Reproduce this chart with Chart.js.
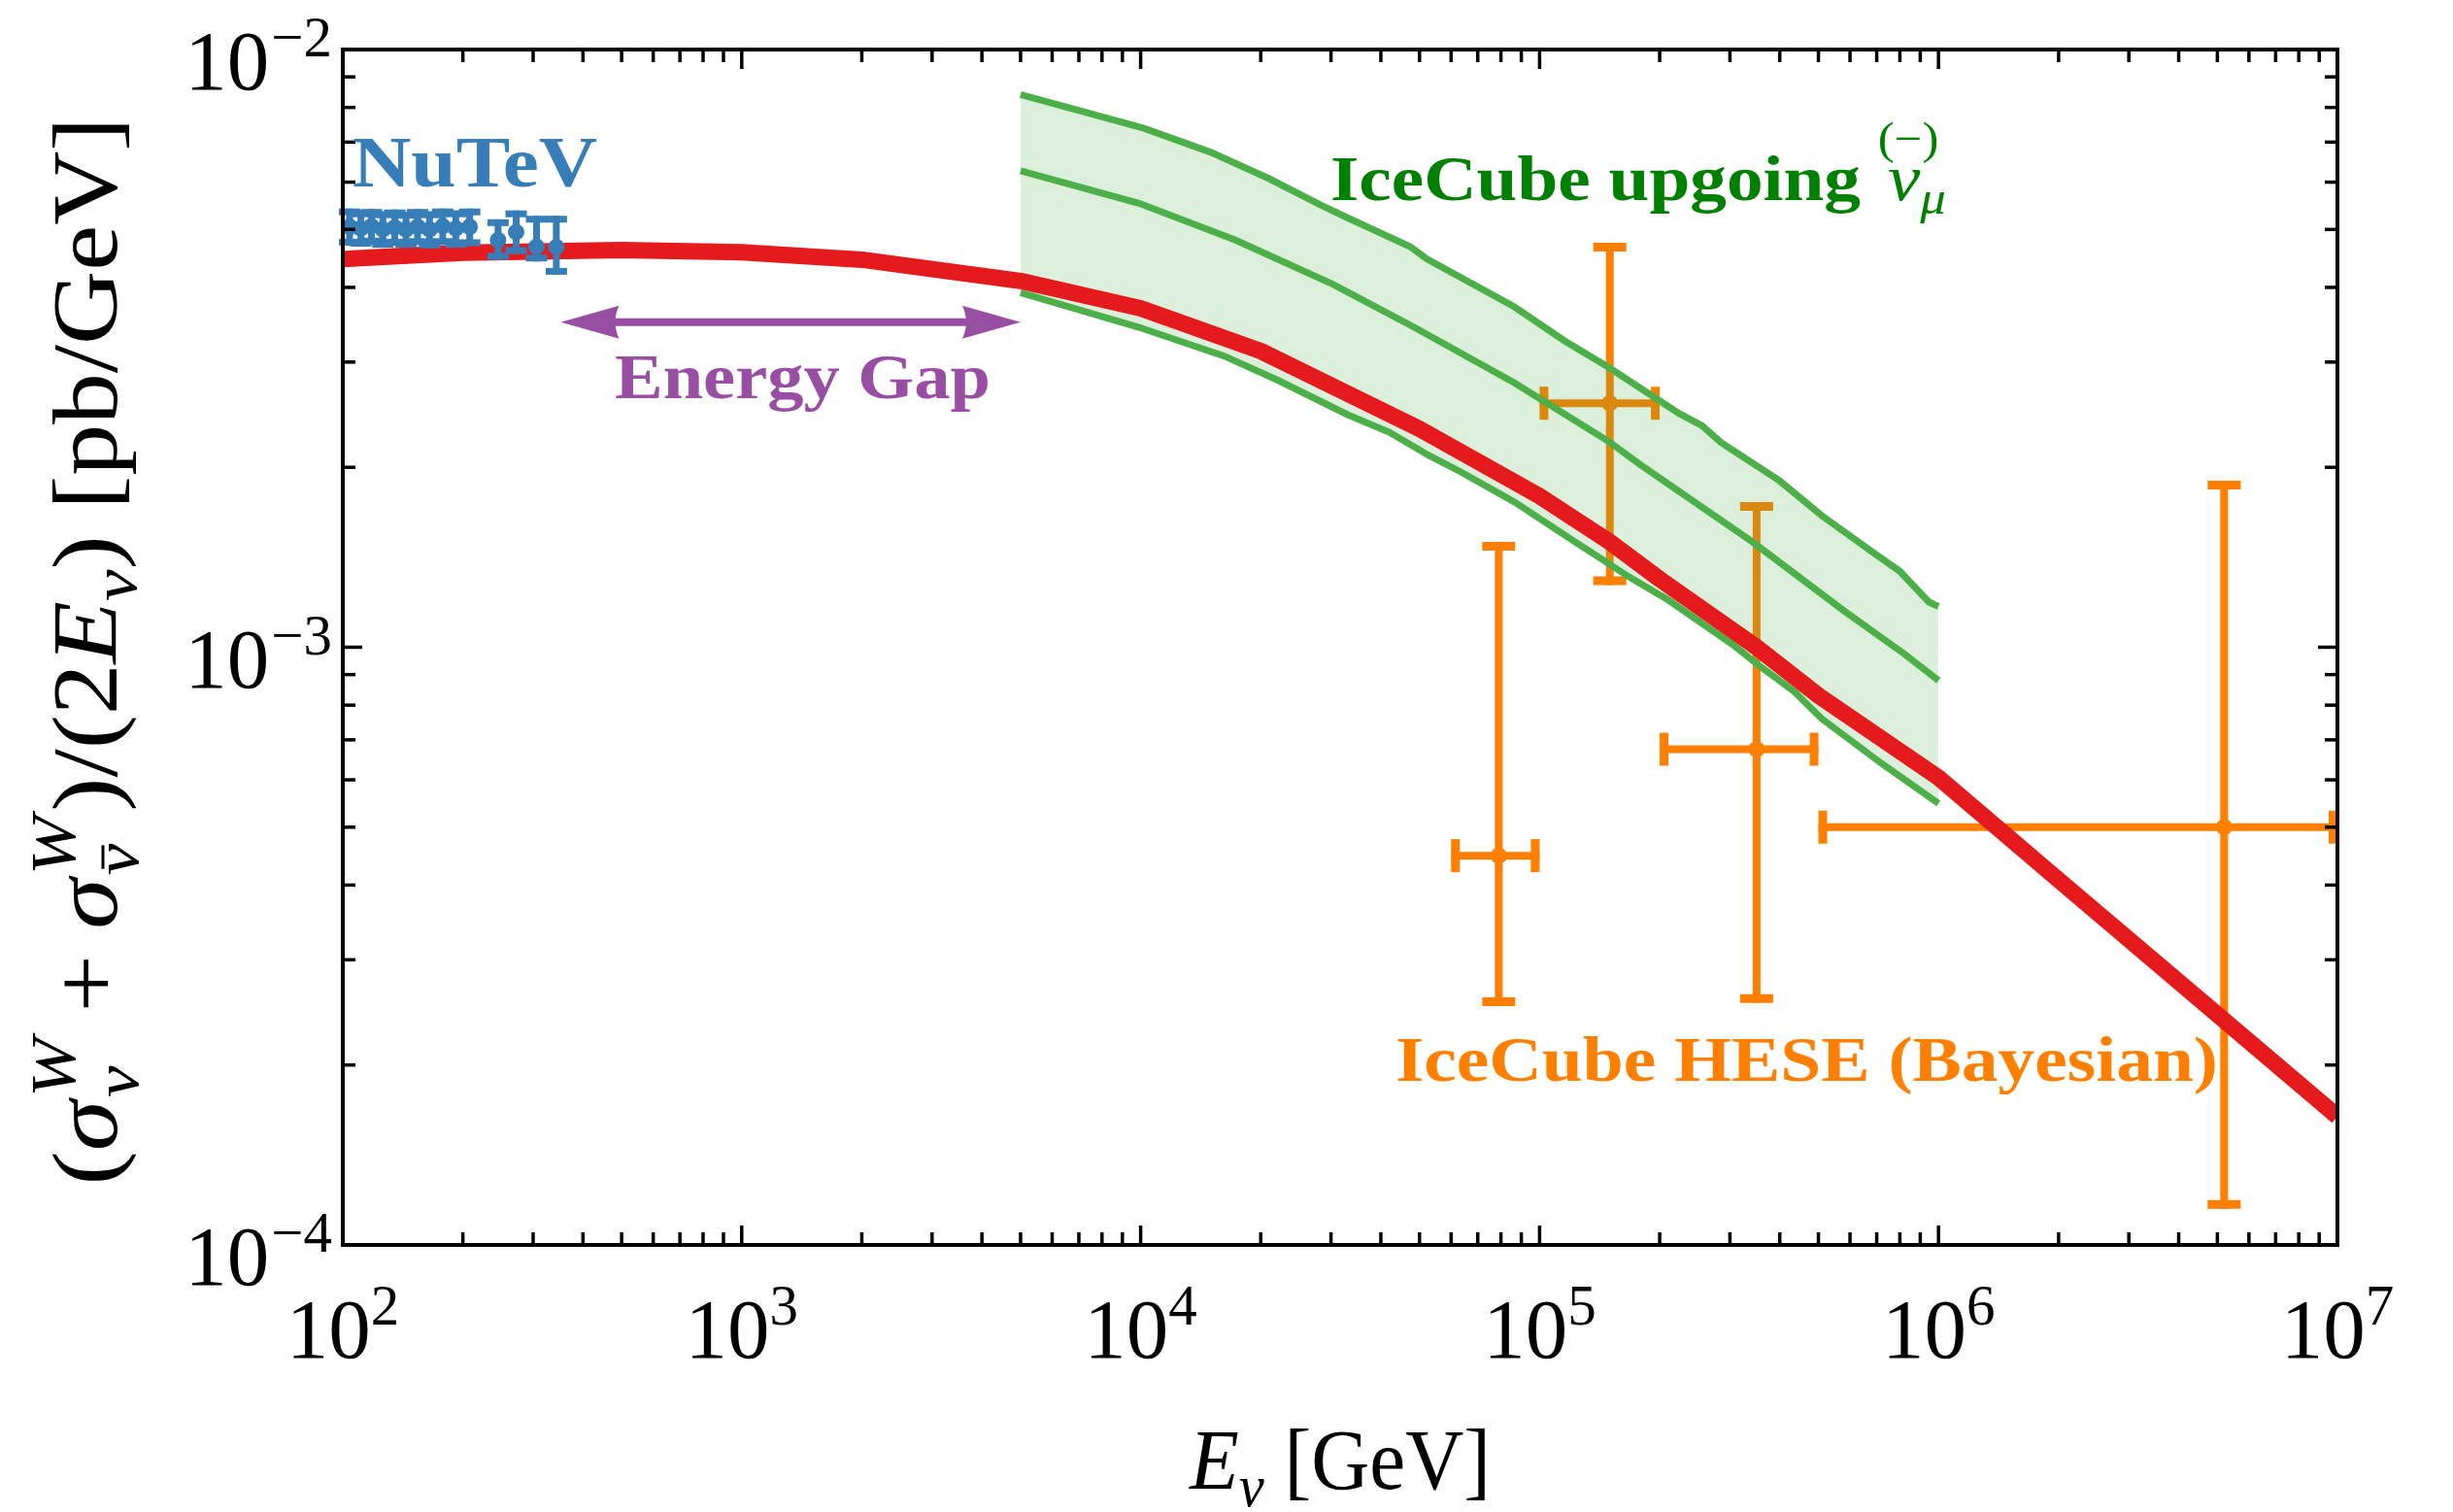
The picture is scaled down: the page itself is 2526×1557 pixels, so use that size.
<!DOCTYPE html>
<html>
<head>
<meta charset="utf-8">
<script src="https://cdn.jsdelivr.net/npm/chart.js@4.4.1/dist/chart.umd.min.js"></script>
<style>
  html, body { margin: 0; padding: 0; background: #ffffff; }
  canvas { display: block; }
</style>
</head>
<body>
<canvas id="chart" width="2526" height="1557"></canvas>
<script>
// ---------------- data ----------------
// Theory curve: (sigma_nu^W + sigma_nubar^W)/(2 E_nu) in pb/GeV
const redE   = [100, 200, 500, 1000, 2000, 5000, 1e4, 2e4, 5e4, 1e5, 1.5e5, 2e5, 3.5e5, 5e5, 1e6, 2e6, 5e6, 1e7];
const redVal = [4.46e-3, 4.57e-3, 4.62e-3, 4.58e-3, 4.45e-3, 4.10e-3, 3.69e-3, 3.13e-3, 2.32e-3, 1.79e-3, 1.50e-3, 1.30e-3, 1.00e-3, 8.3e-4, 6.05e-4, 4.08e-4, 2.43e-4, 1.64e-4];

// IceCube upgoing numu band: upper edge, central line, lower edge
const upperE   = [5e3, 1.02e4, 1.5e4, 2.1e4, 2.82e4, 3.3e4, 4.74e4, 5.2e4, 8.65e4, 1.16e5, 1.49e5, 2.24e5, 2.55e5, 2.85e5, 3.99e5, 5.1e5, 6.76e5, 8.0e5, 9.46e5, 1e6];
const upperVal = [8.41e-3, 7.38e-3, 6.73e-3, 6.08e-3, 5.50e-3, 5.23e-3, 4.68e-3, 4.47e-3, 3.71e-3, 3.25e-3, 2.94e-3, 2.46e-3, 2.35e-3, 2.20e-3, 1.90e-3, 1.66e-3, 1.45e-3, 1.34e-3, 1.19e-3, 1.17e-3];
const middleE   = [5e3, 9.9e3, 1.73e4, 3.03e4, 4.85e4, 8.65e4, 1.49e5, 1.79e5, 3.42e5, 5.8e5, 8.2e5, 1e6];
const middleVal = [6.27e-3, 5.53e-3, 4.80e-3, 4.05e-3, 3.43e-3, 2.77e-3, 2.21e-3, 2.02e-3, 1.50e-3, 1.15e-3, 9.75e-4, 8.8e-4];
const lowerE   = [5e3, 9.9e3, 1.62e4, 2.2e4, 3.3e4, 4.2e4, 5.3e4, 6.3e4, 8.65e4, 1.21e5, 1.68e5, 2.1e5, 3.05e5, 3.54e5, 4.35e5, 5.1e5, 7.2e5, 1e6];
const lowerVal = [3.92e-3, 3.43e-3, 3.07e-3, 2.80e-3, 2.45e-3, 2.29e-3, 2.09e-3, 1.97e-3, 1.75e-3, 1.51e-3, 1.31e-3, 1.20e-3, 1.01e-3, 9.33e-4, 8.43e-4, 7.59e-4, 6.39e-4, 5.48e-4];

// IceCube HESE (Bayesian) measurements with energy bins and 1-sigma ranges
const heseE    = [7.9e4, 1.5e5, 3.5e5, 5.2e6];
const heseELo  = [6e4, 1e5, 2e5, 5e5];
const heseEHi  = [1e5, 2e5, 5e5, 1e7];
const heseVal  = [4.48e-4, 2.56e-3, 6.75e-4, 5.0e-4];
const heseLo   = [2.51e-4, 1.27e-3, 2.54e-4, 1.15e-4];
const heseHi   = [1.50e-3, 4.75e-3, 1.75e-3, 1.90e-3];

// NuTeV accelerator measurements
const nutevE   = [104, 111, 118, 126, 135, 144, 154, 165, 178, 192, 208, 245, 272, 306, 343];
const nutevVal = [5.05e-3, 5.02e-3, 5.06e-3, 5.00e-3, 5.04e-3, 5.00e-3, 5.05e-3, 5.00e-3, 5.06e-3, 5.02e-3, 5.05e-3, 4.80e-3, 4.95e-3, 4.68e-3, 4.67e-3];
const nutevLo  = [4.70e-3, 4.68e-3, 4.72e-3, 4.66e-3, 4.70e-3, 4.66e-3, 4.71e-3, 4.65e-3, 4.71e-3, 4.66e-3, 4.69e-3, 4.45e-3, 4.55e-3, 4.42e-3, 4.20e-3];
const nutevHi  = [5.42e-3, 5.38e-3, 5.41e-3, 5.36e-3, 5.40e-3, 5.35e-3, 5.41e-3, 5.36e-3, 5.42e-3, 5.38e-3, 5.42e-3, 5.20e-3, 5.38e-3, 5.27e-3, 5.27e-3];

// "Energy Gap" double arrow between the NuTeV and IceCube ranges
const gapE   = [352, 5000];
const gapVal = [3.5e-3, 3.5e-3];

// Axis ticks and their labels (10^exponent)
const xTickValues = [1e2, 1e3, 1e4, 1e5, 1e6, 1e7];
const xTickExps   = ['2', '3', '4', '5', '6', '7'];
const yTickValues = [1e-2, 1e-3, 1e-4];
const yTickExps   = ['\u22122', '\u22123', '\u22124'];

// ---------------- helpers ----------------
const SERIF = '"Liberation Serif", "DejaVu Serif", serif';
const pts = (xs, ys) => xs.map((x, i) => ({ x: x, y: ys[i] }));

function measureItems(ctx, items) {
  let w = 0; const pos = [];
  for (const it of items) {
    ctx.font = it.f;
    const k = it.kern || 0;
    pos.push(w + k);
    let iw;
    if (it.script) {
      iw = Math.max(ctx.measureText(it.sup || '').width, ctx.measureText(it.sub || '').width);
    } else {
      iw = ctx.measureText(it.t).width;
    }
    w += iw + k + (it.after || 0);
  }
  return { w, pos };
}

function drawItems(ctx, items, x, y, targetW, color, align) {
  const m = measureItems(ctx, items);
  const sx = targetW ? targetW / m.w : 1;
  ctx.save();
  ctx.translate(x, y);
  ctx.scale(sx, 1);
  const x0 = align === 'center' ? -m.w / 2 : (align === 'right' ? -m.w : 0);
  ctx.fillStyle = color; ctx.strokeStyle = color;
  ctx.textBaseline = 'alphabetic'; ctx.textAlign = 'left';
  items.forEach((it, i) => {
    const px = x0 + m.pos[i];
    ctx.font = it.f;
    if (it.script) {
      if (it.sup) ctx.fillText(it.sup, px + (it.supDx || 0), it.supDy);
      if (it.sub) {
        ctx.fillText(it.sub, px, it.subDy);
        if (it.bar) {
          const bw = ctx.measureText(it.sub).width;
          ctx.lineWidth = 3;
          ctx.beginPath();
          ctx.moveTo(px + bw * 0.2, it.subDy - it.barH);
          ctx.lineTo(px + bw * 0.95, it.subDy - it.barH);
          ctx.stroke();
        }
      }
    } else {
      ctx.fillText(it.t, px, it.dy || 0);
      if (it.over) {
        const gw = ctx.measureText(it.t).width;
        ctx.font = it.overF;
        const ow = ctx.measureText(it.over).width;
        ctx.fillText(it.over, px + gw / 2 - ow / 2 + (it.overDx || 0), it.overDy);
      }
    }
  });
  ctx.restore();
}

function fitText(ctx, text, font, x, y, width, color) {
  drawItems(ctx, [{ t: text, f: font }], x, y, width, color, 'left');
}

// ---------------- plugins ----------------
// Error bars are drawn just before their own dataset so layering follows dataset order.
const errorBarPlugin = {
  id: 'errorBars',
  beforeDatasetDraw(chart, args) {
    const ds = chart.data.datasets[args.index];
    if (!ds.errors) return;
    const er = ds.errors, ctx = chart.ctx;
    const xs = chart.scales.x, ys = chart.scales.y;
    const seg = (x1, y1, x2, y2) => { ctx.beginPath(); ctx.moveTo(x1, y1); ctx.lineTo(x2, y2); ctx.stroke(); };
    ctx.save();
    ctx.strokeStyle = ds.backgroundColor;
    ctx.lineCap = 'butt';
    ds.data.forEach((p, i) => {
      const cx = xs.getPixelForValue(p.x), cy = ys.getPixelForValue(p.y);
      const yl = ys.getPixelForValue(er.lo[i]), yh = ys.getPixelForValue(er.hi[i]);
      ctx.lineWidth = er.width;
      seg(cx, yl, cx, yh);
      ctx.lineWidth = er.capThick;
      seg(cx - er.cap, yl - er.capThick / 2, cx + er.cap, yl - er.capThick / 2);
      seg(cx - er.cap, yh + er.capThick / 2, cx + er.cap, yh + er.capThick / 2);
      if (er.xlo) {
        const xl = xs.getPixelForValue(er.xlo[i]), xh = xs.getPixelForValue(er.xhi[i]);
        ctx.lineWidth = er.width;
        seg(xl, cy, xh, cy);
        ctx.lineWidth = er.capThick;
        seg(xl + er.capThick / 2, cy - er.cap, xl + er.capThick / 2, cy + er.cap);
        seg(xh - er.capThick / 2, cy - er.cap, xh - er.capThick / 2, cy + er.cap);
      }
    });
    ctx.restore();
  }
};

// Double-headed arrow drawn between the two points of a dataset
const arrowPlugin = {
  id: 'gapArrow',
  afterDatasetDraw(chart, args) {
    const ds = chart.data.datasets[args.index];
    if (!ds.doubleArrow) return;
    const ctx = chart.ctx, xs = chart.scales.x, ys = chart.scales.y;
    const x1 = xs.getPixelForValue(ds.data[0].x), x2 = xs.getPixelForValue(ds.data[1].x);
    const y = ys.getPixelForValue(ds.data[0].y);
    const L = 60, H = 17, N = 6;
    ctx.save();
    ctx.fillStyle = ds.borderColor; ctx.strokeStyle = ds.borderColor;
    ctx.lineWidth = 8;
    ctx.beginPath(); ctx.moveTo(x1 + L - N, y); ctx.lineTo(x2 - L + N, y); ctx.stroke();
    const head = (tip, dir) => {
      ctx.beginPath();
      ctx.moveTo(tip, y);
      ctx.lineTo(tip - dir * L, y - H);
      ctx.quadraticCurveTo(tip - dir * (L - N - 2), y, tip - dir * L, y + H);
      ctx.closePath();
      ctx.fill();
    };
    head(x1, -1); head(x2, 1);
    ctx.restore();
  }
};

// Frame, inward ticks on all four sides, tick labels, axis titles and annotations
const framePlugin = {
  id: 'frameAndText',
  afterDatasetsDraw(chart) {
    const ctx = chart.ctx, a = chart.chartArea, xs = chart.scales.x, ys = chart.scales.y;
    ctx.save();
    ctx.strokeStyle = '#000';
    ctx.lineCap = 'butt';
    const MAJ = 20, MIN = 13;
    ctx.lineWidth = 3.5;
    const tick = (x1, y1, x2, y2) => { ctx.beginPath(); ctx.moveTo(x1, y1); ctx.lineTo(x2, y2); ctx.stroke(); };
    for (let k = 2; k <= 7; k++) {
      for (let m = 1; m <= 9; m++) {
        const v = m * Math.pow(10, k);
        if (v > 1e7 * 1.0001) break;
        const px = xs.getPixelForValue(v);
        const len = m === 1 ? MAJ : MIN;
        tick(px, a.bottom, px, a.bottom - len);
        tick(px, a.top, px, a.top + len);
      }
    }
    for (let k = -4; k <= -2; k++) {
      for (let m = 1; m <= 9; m++) {
        const v = m * Math.pow(10, k);
        if (v > 1e-2 * 1.0001) break;
        const py = ys.getPixelForValue(v);
        const len = m === 1 ? MAJ : MIN;
        tick(a.left, py, a.left + len, py);
        tick(a.right, py, a.right - len, py);
      }
    }
    ctx.lineWidth = 4;
    ctx.strokeRect(a.left, a.top, a.right - a.left, a.bottom - a.top);
    ctx.restore();

    const TICK = '87px ' + SERIF, EXP = '59px ' + SERIF;
    // x tick labels
    xTickValues.forEach((v, i) => {
      drawItems(ctx, [{ t: '10', f: TICK }, { t: xTickExps[i], f: EXP, dy: -34 }],
        xs.getPixelForValue(v), a.bottom + 116, null, '#000', 'center');
    });
    // y tick labels
    yTickValues.forEach((v, i) => {
      drawItems(ctx, [{ t: '10', f: TICK }, { t: yTickExps[i], f: EXP, dy: -34, kern: 2 }],
        a.left - 11, ys.getPixelForValue(v) + 41, null, '#000', 'right');
    });

    // axis titles
    const R = '88px ' + SERIF, I = 'italic 88px ' + SERIF, IS = 'italic 62px ' + SERIF;
    drawItems(ctx, [
      { t: 'E', f: I }, { t: '\u03bd', f: IS, dy: 18 }, { t: ' [GeV]', f: R }
    ], (a.left + a.right) / 2, a.bottom + 251, 310, '#000', 'center');

    const RY = '95px ' + SERIF, IY = 'italic 95px ' + SERIF, ISY = 'italic 66px ' + SERIF;
    ctx.save();
    ctx.translate(120, (a.top + a.bottom) / 2 + 4);
    ctx.rotate(-Math.PI / 2);
    drawItems(ctx, [
      { t: '(', f: RY },
      { t: '\u03c3', f: IY },
      { script: true, sup: 'W', sub: '\u03bd', f: ISY, supDy: -43, subDy: 22, kern: 3 },
      { t: ' + ', f: RY },
      { t: '\u03c3', f: IY },
      { script: true, sup: 'W', sub: '\u03bd', f: ISY, supDy: -43, subDy: 22, kern: 3, bar: true, barH: 36 },
      { t: ')/(2', f: RY, kern: 4 },
      { t: 'E', f: IY },
      { t: '\u03bd', f: ISY, dy: 20 },
      { t: ') [pb/GeV]', f: RY }
    ], 0, 0, 1100, '#000', 'center');
    ctx.restore();

    // annotations
    fitText(ctx, 'NuTeV', 'bold 74px ' + SERIF, 363, 192, 252, '#377eb8');
    fitText(ctx, 'Energy Gap', 'bold 66px ' + SERIF, 633, 410, 387, '#984ea3');
    fitText(ctx, 'IceCube HESE (Bayesian)', 'bold 66px ' + SERIF, 1437, 1113, 847, '#ff7f00');
    fitText(ctx, 'IceCube upgoing', 'bold 66px ' + SERIF, 1370, 206, 546, '#008000');
    drawItems(ctx, [
      { t: '\u03bd', f: 'italic 68px ' + SERIF, over: '(\u2212)', overF: '46px ' + SERIF, overDy: -48, overDx: 4 },
      { t: '\u03bc', f: 'italic 48px ' + SERIF, dy: 14 }
    ], 1944, 206, 60, '#008000', 'left');
  }
};

// ---------------- chart ----------------
const ctx = document.getElementById('chart').getContext('2d');
new Chart(ctx, {
  type: 'scatter',
  data: {
    datasets: [
      {
        label: 'NuTeV', type: 'scatter', order: 0,
        data: pts(nutevE, nutevVal),
        backgroundColor: '#377eb8', borderWidth: 0, pointRadius: 8.5,
        errors: { lo: nutevLo, hi: nutevHi, width: 7, cap: 11, capThick: 7 }
      },
      {
        label: 'SM', type: 'line', order: 1,
        data: pts(redE, redVal),
        borderColor: '#e41a1c', borderWidth: 17, pointRadius: 0, tension: 0,
        borderJoinStyle: 'round', fill: false, clip: 0
      },
      {
        label: 'IceCube upgoing central', type: 'line', order: 2,
        data: pts(middleE, middleVal),
        borderColor: '#4daf4a', borderWidth: 7, pointRadius: 0, tension: 0, fill: false
      },
      {
        label: 'IceCube upgoing upper', type: 'line', order: 3,
        data: pts(upperE, upperVal),
        borderColor: '#4daf4a', borderWidth: 7, pointRadius: 0, tension: 0, fill: false
      },
      {
        label: 'IceCube upgoing lower', type: 'line', order: 4,
        data: pts(lowerE, lowerVal),
        borderColor: '#4daf4a', borderWidth: 7, pointRadius: 0, tension: 0, fill: false
      },
      {
        label: 'IceCube upgoing band', type: 'line', order: 5,
        data: pts(upperE, upperVal),
        borderWidth: 0, borderColor: 'rgba(0,0,0,0)', pointRadius: 0, tension: 0,
        backgroundColor: 'rgba(77,175,74,0.2)', fill: { target: 4 }
      },
      {
        label: 'Energy gap', type: 'line', order: 6,
        data: pts(gapE, gapVal),
        showLine: false, pointRadius: 0, borderColor: '#984ea3', doubleArrow: true
      },
      {
        label: 'IceCube HESE', type: 'scatter', order: 7,
        data: pts(heseE, heseVal),
        backgroundColor: '#ff7f00', borderWidth: 0, pointRadius: 8.5,
        errors: { lo: heseLo, hi: heseHi, xlo: heseELo, xhi: heseEHi, width: 8, cap: 17, capThick: 9 }
      }
    ]
  },
  options: {
    responsive: false,
    animation: false,
    devicePixelRatio: 1,
    events: [],
    layout: { padding: { left: 353, right: 119, top: 51, bottom: 275 } },
    plugins: {
      legend: { display: false },
      tooltip: { enabled: false },
      filler: { propagate: false }
    },
    scales: {
      x: { type: 'logarithmic', min: 100, max: 1e7, display: false },
      y: { type: 'logarithmic', min: 1e-4, max: 1e-2, display: false }
    }
  },
  plugins: [errorBarPlugin, arrowPlugin, framePlugin]
});
</script>
</body>
</html>
